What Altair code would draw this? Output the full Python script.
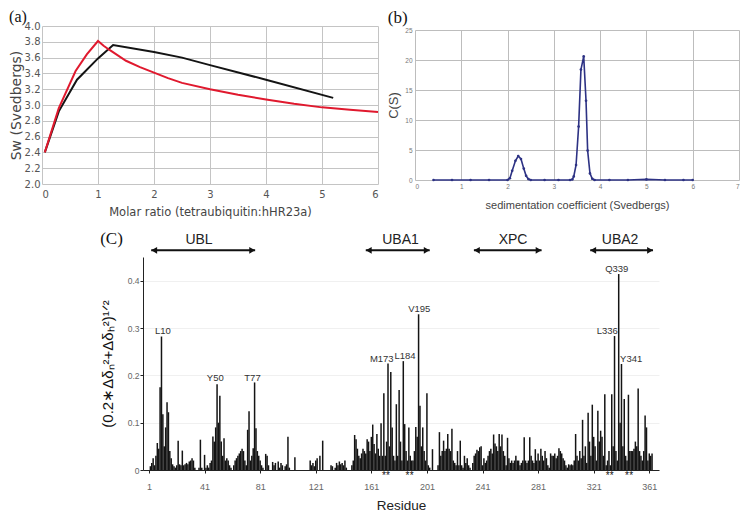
import altair as alt
import pandas as pd

# ---------------- Panel (a): Sw vs molar ratio ----------------
a_black_x = [0.05, 0.3, 0.625, 1.0, 1.27, 2.0, 2.5, 3.0, 4.0, 5.2]
a_black_y = [2.40, 2.92, 3.32, 3.59, 3.76, 3.67, 3.60, 3.505, 3.32, 3.09]
a_red_x = [0.05, 0.3, 0.6, 0.8, 1.0, 1.1, 1.2, 1.5, 1.75, 2.0, 2.25, 2.5, 3.0, 3.5, 4.0, 4.5, 5.0, 5.5, 6.0]
a_red_y = [2.40, 2.96, 3.43, 3.64, 3.81, 3.75, 3.70, 3.56, 3.48, 3.41, 3.34, 3.28, 3.20, 3.13, 3.07, 3.015, 2.97, 2.94, 2.91]
a_xticks = [0, 1, 2, 3, 4, 5, 6]
a_yticks = [2.0, 2.2, 2.4, 2.6, 2.8, 3.0, 3.2, 3.4, 3.6, 3.8, 4.0]

# ---------------- Panel (b): c(s) distribution ----------------
b_s = [0.4, 0.8, 1.2, 1.6, 2.0, 2.05, 2.1, 2.17, 2.23, 2.29, 2.35, 2.4, 2.45, 2.5, 2.8, 3.1,
       3.35, 3.4, 3.43, 3.48, 3.535, 3.585, 3.645, 3.695, 3.73, 3.78, 3.83, 3.88, 4.2, 4.6, 5.0, 5.4, 5.8, 6.0]
b_c = [0.0, 0.0, 0.0, 0.0, 0.0, 0.3, 1.55, 3.2, 4.0, 3.5, 1.9, 0.7, 0.15, 0.0, 0.0, 0.0,
       0.0, 0.1, 0.6, 2.5, 8.9, 18.4, 20.6, 13.2, 4.9, 1.1, 0.2, 0.0, 0.0, 0.0, 0.1, 0.0, 0.0, 0.0]
b_xticks = [0, 1, 2, 3, 4, 5, 6, 7]
b_yticks = [0, 5, 10, 15, 20, 25]

# ---------------- Panel (c): chemical shift perturbation ----------------
c_values = [
    0.0, 0.008, 0.015, 0.025, 0.01, 0.03, 0.057, 0.045, 0.175, 0.282,
    0.118, 0.05, 0.09, 0.143, 0.122, 0.04, 0.025, 0.012, 0.008, 0.005,
    0.01, 0.062, 0.012, 0.01, 0.041, 0.01, 0.012, 0.015, 0.012, 0.018,
    0.02, 0.025, 0.02, 0.005, 0.0, 0.0, 0.005, 0.064, 0.005, 0.0,
    0.032, 0.005, 0.01, 0.005, 0.015, 0.02, 0.071, 0.06, 0.09, 0.181,
    0.1, 0.157, 0.06, 0.03, 0.067, 0.02, 0.025, 0.02, 0.01, 0.005,
    0.0, 0.01, 0.02, 0.025, 0.03, 0.035, 0.04, 0.045, 0.04, 0.02,
    0.01, 0.085, 0.124, 0.02, 0.03, 0.046, 0.185, 0.088, 0.04, 0.03,
    0.02, 0.01, 0.005, 0.0, 0.034, 0.03, 0.01, 0.0, 0.0, 0.017,
    0.01, 0.015, 0.0, 0.018, 0.005, 0.015, 0.01, 0.0, 0.008, 0.012,
    0.07, 0.005, 0.0, 0.0, 0.0, 0.027, 0.0, 0.0, 0.0, 0.0,
    0.0, 0.0, 0.0, 0.0, 0.0, 0.0, 0.02, 0.01, 0.015, 0.008,
    0.02, 0.025, 0.0, 0.03, 0.0, 0.062, 0.0, 0.0, 0.0, 0.0,
    0.0, 0.01, 0.008, 0.0, 0.005, 0.015, 0.01, 0.018, 0.012, 0.015,
    0.01, 0.02, 0.005, 0.0, 0.0, 0.0, 0.01, 0.02, 0.074, 0.065,
    0.045, 0.03, 0.025, 0.035, 0.045, 0.04, 0.035, 0.065, 0.06, 0.04,
    0.07, 0.096, 0.055, 0.035, 0.076, 0.045, 0.03, 0.099, 0.03, 0.162,
    0.03, 0.06, 0.225, 0.05, 0.207, 0.09, 0.03, 0.02, 0.139, 0.03,
    0.169, 0.06, 0.02, 0.23, 0.097, 0.04, 0.02, 0.09, 0.03, 0.02,
    0.02, 0.04, 0.091, 0.07, 0.329, 0.136, 0.05, 0.09, 0.04, 0.02,
    0.162, 0.01, 0.005, 0.0, 0.044, 0.0, 0.0, 0.0, 0.01, 0.08,
    0.03, 0.04, 0.062, 0.04, 0.045, 0.076, 0.045, 0.04, 0.087, 0.02,
    0.015, 0.01, 0.04, 0.01, 0.062, 0.01, 0.005, 0.03, 0.015, 0.025,
    0.01, 0.005, 0.0, 0.015, 0.03, 0.035, 0.043, 0.04, 0.048, 0.05,
    0.01, 0.025, 0.015, 0.02, 0.03, 0.04, 0.045, 0.035, 0.075, 0.056,
    0.05, 0.04, 0.076, 0.05, 0.075, 0.04, 0.03, 0.01, 0.068, 0.025,
    0.015, 0.02, 0.015, 0.02, 0.03, 0.02, 0.02, 0.01, 0.015, 0.02,
    0.069, 0.02, 0.015, 0.02, 0.069, 0.03, 0.02, 0.015, 0.044, 0.02,
    0.035, 0.02, 0.045, 0.03, 0.02, 0.04, 0.025, 0.01, 0.005, 0.035,
    0.03, 0.03, 0.035, 0.025, 0.03, 0.046, 0.04, 0.035, 0.025, 0.02,
    0.01, 0.005, 0.012, 0.01, 0.012, 0.01, 0.02, 0.076, 0.03, 0.02,
    0.04, 0.025, 0.106, 0.03, 0.05, 0.015, 0.121, 0.06, 0.03, 0.138,
    0.07, 0.05, 0.02, 0.125, 0.06, 0.083, 0.07, 0.03, 0.16, 0.01,
    0.02, 0.04, 0.01, 0.16, 0.05, 0.283, 0.04, 0.02, 0.414, 0.1,
    0.224, 0.05, 0.15, 0.03, 0.02, 0.159, 0.04, 0.04, 0.04, 0.045,
    0.06, 0.05, 0.172, 0.04, 0.03, 0.02, 0.04, 0.115, 0.09, 0.02,
    0.035, 0.03, 0.035,
]
c_residues = list(range(1, len(c_values) + 1))
c_gray = [22, 25, 38, 41, 55, 101, 106, 122, 126, 168, 170, 176, 189, 193, 198,
          216, 240, 253, 255, 271, 283, 292, 301, 326, 331, 341, 347]
c_xticks = [1, 21, 41, 61, 81, 101, 121, 141, 161, 181, 201, 221, 241, 261, 281, 301, 321, 341, 361]
c_yticks = [0, 0.05, 0.1, 0.15, 0.2, 0.25, 0.3, 0.35, 0.4, 0.45]

c_peak_names = ["L10", "Y50", "T77", "M173", "L184", "V195", "L336", "Q339", "Y341"]
c_peak_x = [11, 48.7, 75.5, 168.5, 185.2, 195.5, 330.8, 337.6, 348]
c_peak_y = [0.294, 0.194, 0.194, 0.234, 0.241, 0.34, 0.294, 0.4255, 0.234]

c_star_x = [170, 173, 187, 190, 331, 334, 345, 348]

c_domains = ["UBL", "UBA1", "XPC", "UBA2"]
c_dom_start = [2.6, 157, 234.8, 318.5]
c_dom_end = [77.4, 203, 283.5, 363.7]
c_dom_mid = [37, 182, 263, 340]
c_arrow_y = 0.464
c_label_y = 0.486

SANS = "Liberation Sans"
VERD = "DejaVu Sans"
SERIF = "Liberation Serif"

# ---------------- build panel (a) ----------------
a_df = pd.DataFrame({
    "ratio": a_black_x + a_red_x,
    "sw": a_black_y + a_red_y,
    "series": ["black"] * len(a_black_x) + ["red"] * len(a_red_x),
})

panel_a = alt.Chart(a_df).mark_line(strokeWidth=2).encode(
    x=alt.X("ratio:Q", scale=alt.Scale(domain=[0, 6], nice=False, zero=False),
            axis=alt.Axis(values=a_xticks, title="Molar ratio (tetraubiquitin:hHR23a)",
                          grid=True, gridColor="#c4c4c4", domain=False, ticks=False,
                          labelFont=VERD, labelFontSize=10, labelColor="#555", labelPadding=5,
                          titleFont=VERD, titleFontSize=11.5, titleFontWeight="normal",
                          titleColor="#444", titlePadding=7)),
    y=alt.Y("sw:Q", scale=alt.Scale(domain=[2.0, 4.0], nice=False, zero=False),
            axis=alt.Axis(values=a_yticks, format=".1f", title="Sw (Svedbergs)",
                          grid=True, gridColor="#c4c4c4", domain=False, ticks=False,
                          labelFont=VERD, labelFontSize=10, labelColor="#555", labelPadding=2,
                          titleFont=VERD, titleFontSize=14, titleFontWeight="normal",
                          titleColor="#444", titlePadding=1)),
    color=alt.Color("series:N", scale=alt.Scale(domain=["black", "red"], range=["#141414", "#e0192e"]),
                    legend=None),
    detail="series:N",
).properties(
    width=336, height=158,
    title=alt.TitleParams("(a)", anchor="start", font=SERIF, fontSize=16, fontWeight="normal",
                          color="#111", offset=-4),
)

# ---------------- build panel (b) ----------------
b_df = pd.DataFrame({"s": b_s, "c": b_c})
panel_b = alt.Chart(b_df).mark_line(
    color="#2d3284", strokeWidth=1.6,
    point=alt.OverlayMarkDef(color="#2d3284", size=7, filled=True),
).encode(
    x=alt.X("s:Q", scale=alt.Scale(domain=[0, 7], nice=False),
            axis=alt.Axis(values=b_xticks, title="sedimentation coefficient (Svedbergs)",
                          grid=True, gridColor="#bdbdbd", domain=False, ticks=False,
                          labelFont=SANS, labelFontSize=6.5, labelColor="#777", labelPadding=3,
                          titleFont=SANS, titleFontSize=11, titleFontWeight="normal",
                          titleColor="#444", titlePadding=10)),
    y=alt.Y("c:Q", scale=alt.Scale(domain=[0, 25], nice=False),
            axis=alt.Axis(values=b_yticks, title="C(S)",
                          grid=True, gridColor="#bdbdbd", domain=False, ticks=False,
                          labelFont=SANS, labelFontSize=6.5, labelColor="#777", labelPadding=3,
                          titleFont=SANS, titleFontSize=13, titleFontWeight="normal",
                          titleColor="#444", titlePadding=4)),
).properties(
    width=324, height=150,
    title=alt.TitleParams("(b)", anchor="start", font=SERIF, fontSize=17, fontWeight="normal",
                          color="#111", offset=0),
)

# ---------------- build panel (c) ----------------
c_df = pd.DataFrame({
    "residue": c_residues,
    "value": c_values,
    "shade": ["gray" if r in c_gray else "black" for r in c_residues],
})
c_xscale = alt.Scale(domain=[0.3, 364.4], nice=False, zero=False)
c_yscale = alt.Scale(domain=[0, 0.45], nice=False)

bars = alt.Chart(c_df).mark_bar(size=1.5).encode(
    x=alt.X("residue:Q", scale=c_xscale,
            axis=alt.Axis(values=c_xticks, title="Residue", grid=False,
                          domain=True, domainColor="#222", ticks=True, tickColor="#222", tickSize=3,
                          labelFont=SANS, labelFontSize=9, labelColor="#666", labelPadding=9,
                          titleFont=SANS, titleFontSize=13.5, titleFontWeight="normal",
                          titleColor="#222", titlePadding=7)),
    y=alt.Y("value:Q", scale=c_yscale,
            axis=alt.Axis(values=c_yticks, format="~g",
                          title="(0.2∗Δδₙ²+Δδₕ²)¹ᐟ²",
                          grid=True, gridColor="#f0f0f0",
                          domain=True, domainColor="#222", ticks=True, tickColor="#222", tickSize=3,
                          labelFont=SANS, labelFontSize=8.5, labelColor="#666", labelPadding=1,
                          titleFont=SANS, titleFontSize=15, titleFontWeight="normal",
                          titleColor="#111", titlePadding=12)),
    color=alt.Color("shade:N", scale=alt.Scale(domain=["black", "gray"], range=["#111111", "#8f8f8f"]),
                    legend=None),
)

stars_df = pd.DataFrame({"residue": c_star_x, "value": [0.0] * len(c_star_x)})
stars = alt.Chart(stars_df).mark_text(text="*", baseline="top", dy=1, fontSize=10, font=SANS,
                                      color="#111").encode(
    x=alt.X("residue:Q", scale=c_xscale),
    y=alt.Y("value:Q", scale=c_yscale),
)

peaks_df = pd.DataFrame({"residue": c_peak_x, "value": c_peak_y, "name": c_peak_names})
peaks = alt.Chart(peaks_df).mark_text(baseline="middle", fontSize=9.5, font=SANS, color="#333").encode(
    x=alt.X("residue:Q", scale=c_xscale),
    y=alt.Y("value:Q", scale=c_yscale),
    text="name:N",
)

dom_df = pd.DataFrame({
    "name": c_domains, "residue": c_dom_start, "end": c_dom_end, "mid": c_dom_mid,
    "value": [c_arrow_y] * 4, "ly": [c_label_y] * 4,
})
arrows = alt.Chart(dom_df).mark_rule(strokeWidth=2, color="#111").encode(
    x=alt.X("residue:Q", scale=c_xscale),
    x2="end:Q",
    y=alt.Y("value:Q", scale=c_yscale),
)
head_l = alt.Chart(dom_df).mark_point(shape="triangle-left", filled=True, size=45, color="#111",
                                      opacity=1, xOffset=3).encode(
    x=alt.X("residue:Q", scale=c_xscale),
    y=alt.Y("value:Q", scale=c_yscale),
)
head_r = alt.Chart(dom_df).mark_point(shape="triangle-right", filled=True, size=45, color="#111",
                                      opacity=1, xOffset=-3).encode(
    x=alt.X("end:Q", scale=c_xscale),
    y=alt.Y("value:Q", scale=c_yscale),
)
dom_labels = alt.Chart(dom_df).mark_text(baseline="middle", fontSize=14, font=SANS, color="#222").encode(
    x=alt.X("mid:Q", scale=c_xscale),
    y=alt.Y("ly:Q", scale=c_yscale),
    text="name:N",
)

panel_c = alt.layer(bars, stars, peaks, arrows, head_l, head_r, dom_labels).properties(
    width=516, height=213,
    title=alt.TitleParams("(C)", anchor="start", font=SERIF, fontSize=17, fontWeight="normal",
                          color="#111", offset=-15),
)

spacer = alt.Chart(pd.DataFrame({"v": [0]})).mark_point(opacity=0, size=1).encode(
    x=alt.value(10), y=alt.value(0.5)
).properties(width=101, height=1)

row1 = alt.hconcat(panel_a, panel_b, spacing=37, bounds="flush", center=True)
row2 = alt.hconcat(spacer, panel_c, spacing=0, bounds="flush")

chart = alt.vconcat(row1, row2, spacing=11).properties(padding=0).configure_view(
    stroke="transparent"
)

chart.save("out.html", embed_options={"renderer": "svg", "actions": False})
